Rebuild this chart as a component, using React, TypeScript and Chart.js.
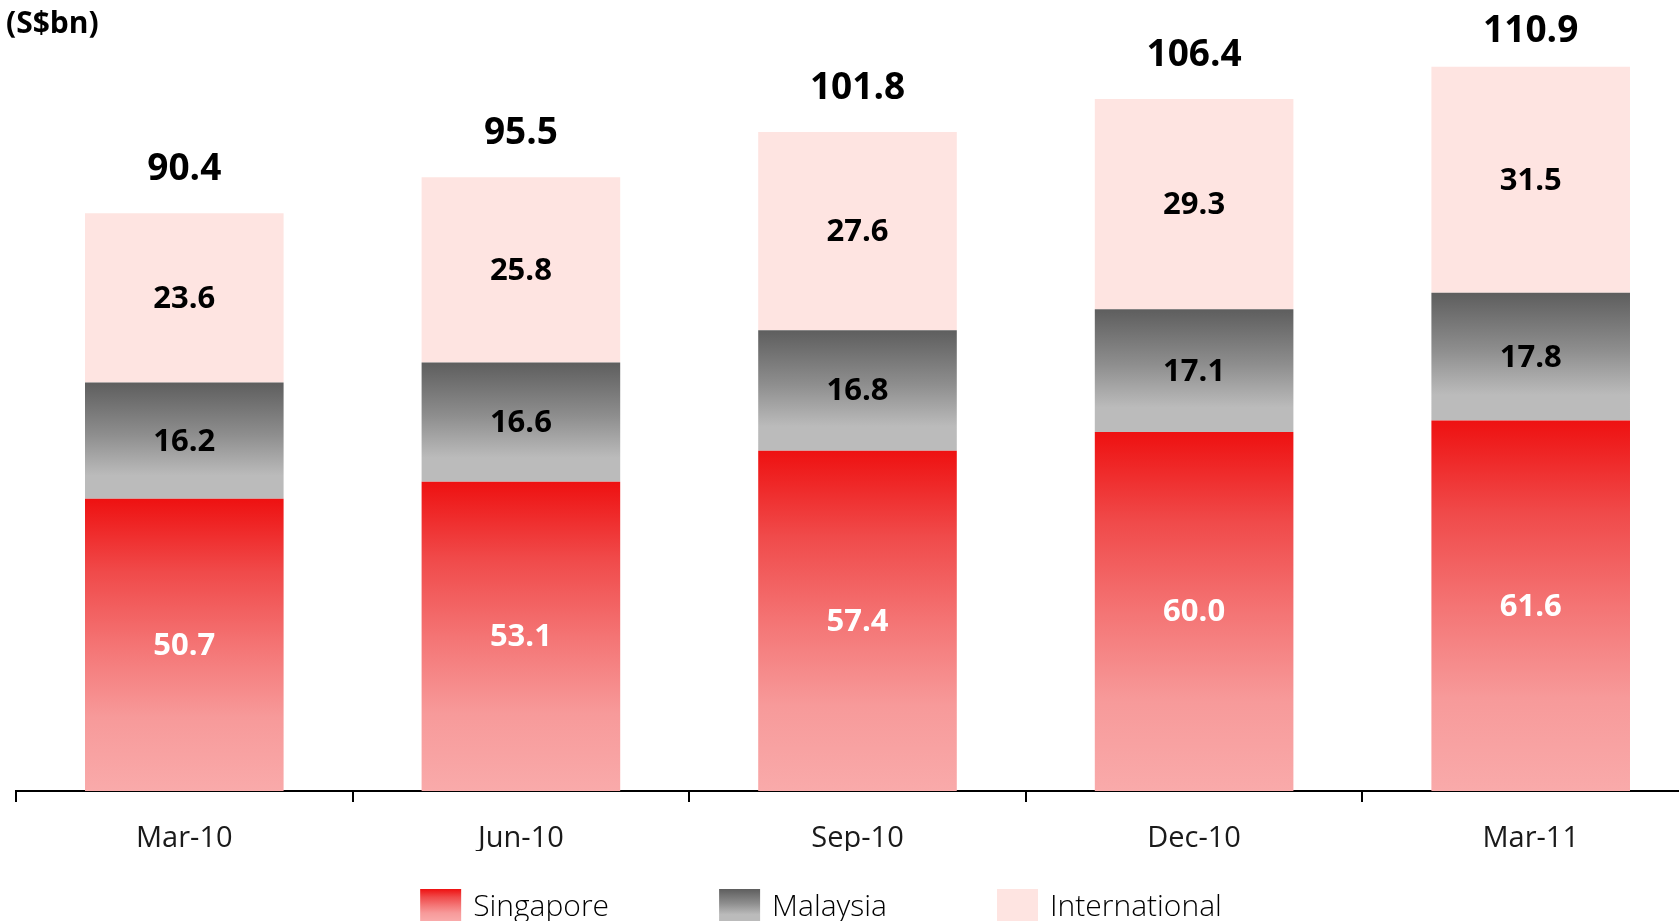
import React, { useEffect, useRef } from "react";
import { Chart, registerables } from "chart.js";

Chart.register(...registerables);

const categories = ["Mar-10", "Jun-10", "Sep-10", "Dec-10", "Mar-11"];
const singapore = [50.7, 53.1, 57.4, 60.0, 61.6];
const malaysia = [16.2, 16.6, 16.8, 17.1, 17.8];
const international = [23.6, 25.8, 27.6, 29.3, 31.5];
const totals = [90.4, 95.5, 101.8, 106.4, 110.9];
const seriesNames = ["Singapore", "Malaysia", "International"];
const unitLabel = "(S$bn)";

const FONT = "'Open Sans', 'DejaVu Sans', sans-serif";

const RED_STOPS: [number, string][] = [
  [0, "#EE1111"],
  [0.25, "#F04A4A"],
  [0.5, "#F47474"],
  [0.75, "#F79A9A"],
  [1, "#F9AAAA"],
];
const GREY_STOPS: [number, string][] = [
  [0, "#5E5E5E"],
  [0.45, "#8E8E8E"],
  [0.8, "#BBBBBB"],
  [1, "#BBBBBB"],
];
const INTL_COLOR = "#FEE4E1";

const seriesStops: ([number, string][] | null)[] = [RED_STOPS, GREY_STOPS, null];
const seriesSolid = ["#F36464", "#8E8E8E", INTL_COLOR];
const labelColors = ["#FFFFFF", "#000000", "#000000"];

function makeGradient(ctx: CanvasRenderingContext2D, top: number, bottom: number, stops: [number, string][]) {
  const g = ctx.createLinearGradient(0, top, 0, Math.max(bottom, top + 1));
  stops.forEach(([o, c]) => g.addColorStop(o, c));
  return g;
}

const dataSeries = [singapore, malaysia, international];

function bgFor(di: number) {
  return (c: any) => {
    const stops = seriesStops[di];
    if (!stops) return seriesSolid[di];
    const chart = c.chart;
    const area = chart.chartArea;
    const ys = chart.scales?.y;
    if (!area || !ys || c.type !== "data") return seriesSolid[di];
    const i = c.dataIndex;
    let base = 0;
    for (let k = 0; k < di; k++) base += dataSeries[k][i];
    const top = ys.getPixelForValue(base + dataSeries[di][i]);
    const bottom = Math.min(ys.getPixelForValue(base), area.bottom);
    return makeGradient(chart.ctx, top, bottom, stops);
  };
}

const valueLabelPlugin = {
  id: "valueLabels",
  afterDatasetsDraw(chart: any) {
    const ctx: CanvasRenderingContext2D = chart.ctx;
    const area = chart.chartArea;
    ctx.save();
    ctx.textAlign = "center";
    ctx.textBaseline = "middle";
    ctx.font = `bold 31px ${FONT}`;
    chart.data.datasets.forEach((ds: any, di: number) => {
      const meta = chart.getDatasetMeta(di);
      ctx.fillStyle = labelColors[di];
      meta.data.forEach((el: any, i: number) => {
        const top = el.y;
        const bottom = Math.min(el.base, area.bottom);
        ctx.fillText(Number(ds.data[i]).toFixed(1), el.x, (top + bottom) / 2 + 1);
      });
    });
    const last = chart.getDatasetMeta(chart.data.datasets.length - 1);
    ctx.font = `bold 37px ${FONT}`;
    ctx.fillStyle = "#000000";
    last.data.forEach((el: any, i: number) => {
      const y = Math.max(el.y - 44, 31);
      ctx.fillText(totals[i].toFixed(1), el.x, y);
    });
    ctx.restore();
  },
};

const decorPlugin = {
  id: "decor",
  afterDraw(chart: any) {
    const ctx: CanvasRenderingContext2D = chart.ctx;
    ctx.save();
    // unit label
    ctx.font = `bold 30px ${FONT}`;
    ctx.fillStyle = "#000000";
    ctx.textAlign = "left";
    ctx.textBaseline = "alphabetic";
    ctx.fillText(unitLabel, 6, 33);

    // legend
    const boxW = 41;
    const boxH = 41;
    const gapText = 12;
    const gapItem = 110;
    const legendTop = 889;
    const centerX = 821;
    ctx.font = `300 30px ${FONT}`;
    const widths = seriesNames.map((n) => ctx.measureText(n).width);
    const total = widths.reduce((s, w) => s + boxW + gapText + w, 0) + gapItem * (seriesNames.length - 1);
    let x = centerX - total / 2;
    seriesNames.forEach((name, di) => {
      const stops = seriesStops[di];
      ctx.fillStyle = stops ? makeGradient(ctx, legendTop, legendTop + 32, stops) : seriesSolid[di];
      ctx.fillRect(x, legendTop, boxW, boxH);
      ctx.fillStyle = "#000000";
      ctx.fillText(name, x + boxW + gapText, 916);
      x += boxW + gapText + widths[di] + gapItem;
    });
    ctx.restore();
  },
};

export default function App() {
  const ref = useRef<HTMLCanvasElement | null>(null);
  useEffect(() => {
    if (!ref.current) return;
    const chart = new Chart(ref.current, {
      type: "bar",
      data: {
        labels: categories,
        datasets: dataSeries.map((d, di) => ({
          label: seriesNames[di],
          data: d,
          backgroundColor: bgFor(di),
          borderWidth: 0,
          categoryPercentage: 1,
          barPercentage: 0.59,
        })),
      },
      options: {
        animation: false,
        responsive: false,
        maintainAspectRatio: false,
        layout: { padding: { left: 16, right: 1, top: 0, bottom: 89 } },
        plugins: {
          legend: { display: false },
          tooltip: { enabled: false },
          title: { display: false },
        },
        scales: {
          x: {
            stacked: true,
            offset: true,
            grid: {
              display: true,
              offset: true,
              drawOnChartArea: false,
              drawTicks: true,
              tickLength: 11,
              color: "#000000",
              lineWidth: 2,
            },
            border: { display: true, color: "#000000", width: 2 },
            ticks: {
              color: "#1A1A1A",
              font: { family: FONT, size: 29, weight: "400" as any },
              padding: 19,
              maxRotation: 0,
            },
            afterFit: (scale: any) => {
              scale.height = 60;
            },
          },
          y: {
            stacked: true,
            display: false,
            min: 10.0,
            max: 120.2,
          },
        },
      },
      plugins: [valueLabelPlugin, decorPlugin],
    });
    return () => chart.destroy();
  }, []);

  return (
    <div
      style={{
        position: "fixed",
        left: 0,
        top: 0,
        width: 1679,
        height: 921,
        overflow: "hidden",
        background: "#FFFFFF",
      }}
    >
      <canvas ref={ref} width={1700} height={940} style={{ width: 1700, height: 940, display: "block" }} />
    </div>
  );
}
